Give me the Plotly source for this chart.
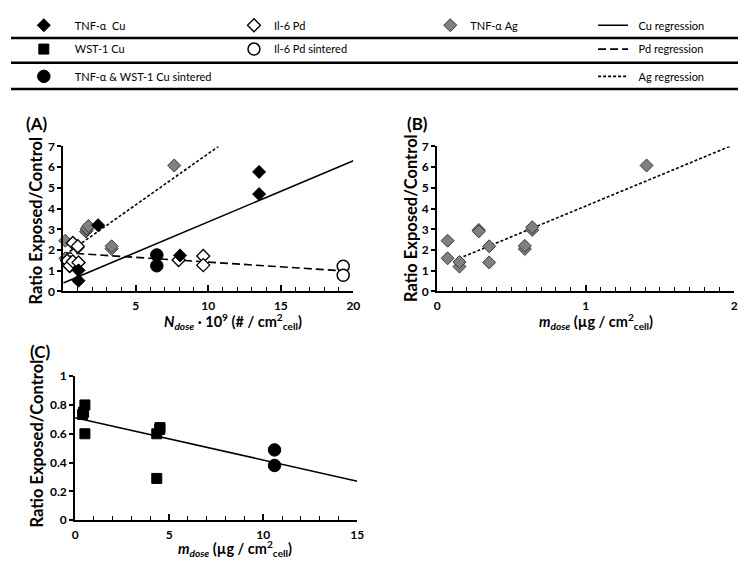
import plotly.graph_objects as go

W, H = 746, 563

# ---------------- Panel A data (N_dose * 1e9) ----------------
tnf_cu_x = [1.05, 1.05, 2.4, 8.05, 13.5, 13.5]
tnf_cu_y = [0.52, 1.02, 3.2, 1.74, 5.77, 4.70]

il6_pd_x = [0.66, 1.0, 0.27, 0.43, 0.66, 1.05, 7.95, 9.65, 9.65]
il6_pd_y = [2.34, 2.18, 1.48, 1.24, 1.45, 1.40, 1.52, 1.71, 1.27]

il6_pd_sint_x = [19.3, 19.3]
il6_pd_sint_y = [1.22, 0.78]

tnf_ag_n_x = [0.14, 0.14, 0.45, 0.50, 1.56, 1.63, 1.00, 1.05, 3.33, 3.33, 1.63, 1.73, 7.65]
tnf_ag_y = [2.45, 1.60, 1.20, 1.42, 2.89, 2.97, 2.12, 1.38, 2.06, 2.18, 3.05, 3.16, 6.08]

cu_sint_n_x = [6.45, 6.45]
cu_sint_n_y = [1.76, 1.24]

# ---------------- Panel B data (m_dose, ug/cm2) ----------------
tnf_ag_m_x = [0.07, 0.07, 0.15, 0.15, 0.28, 0.28, 0.35, 0.35, 0.59, 0.59, 0.64, 0.64, 1.41]
tnf_ag_m_y = [2.45, 1.60, 1.20, 1.42, 2.97, 2.90, 2.18, 1.40, 2.05, 2.20, 2.97, 3.10, 6.08]

# ---------------- Panel C data ----------------
wst_cu_x = [0.52, 0.40, 0.45, 0.52, 4.34, 4.51, 4.50, 4.34]
wst_cu_y = [0.80, 0.734, 0.75, 0.60, 0.60, 0.643, 0.63, 0.29]
cu_sint_m_x = [10.6, 10.6]
cu_sint_m_y = [0.488, 0.38]

# ---------------- Regression lines (end points) ----------------
cu_reg_a_x, cu_reg_a_y = [0, 20], [0.41, 6.31]
pd_reg_a_x, pd_reg_a_y = [0.07, 19.8], [1.87, 0.97]
ag_reg_a_x, ag_reg_a_y = [0.16, 10.7], [1.79, 7.0]
ag_reg_b_x, ag_reg_b_y = [0.146, 1.97], [1.59, 7.0]
cu_reg_c_x, cu_reg_c_y = [0, 15], [0.711, 0.271]

# ---------------- Styles ----------------
BLACK_DIAMOND = dict(symbol="diamond", size=10, color="black", line=dict(color="black", width=1))
WHITE_DIAMOND = dict(symbol="diamond", size=10, color="white", line=dict(color="black", width=1.3))
GREY_DIAMOND = dict(symbol="diamond", size=10, color="#808080", line=dict(color="#3a3a3a", width=1))
BLACK_SQUARE = dict(symbol="square", size=10, color="black", line=dict(color="black", width=1))
BLACK_CIRCLE = dict(symbol="circle", size=12.5, color="black", line=dict(color="black", width=1))
WHITE_CIRCLE = dict(symbol="circle", size=12, color="white", line=dict(color="black", width=1.5))

fig = go.Figure()

def line(x, y, dash, xa, ya, name, legend, show):
    fig.add_trace(go.Scatter(x=x, y=y, mode="lines", name=name, legend=legend,
                             showlegend=show, xaxis=xa, yaxis=ya,
                             line=dict(color="black", width=1.6, dash=dash)))

def pts(x, y, marker, xa, ya, name, legend, show):
    fig.add_trace(go.Scatter(x=x, y=y, mode="markers", name=name, legend=legend,
                             showlegend=show, xaxis=xa, yaxis=ya, marker=marker,
                             cliponaxis=False))

SP = "\u2002\u2002"
# Panel A
line(cu_reg_a_x, cu_reg_a_y, "solid", "x", "y", "\u2002Cu regression", "legend7", True)
line(pd_reg_a_x, pd_reg_a_y, "8px,4px", "x", "y", "\u2002Pd regression", "legend8", True)
line(ag_reg_a_x, ag_reg_a_y, "3px,2px", "x", "y", "\u2002Ag regression", "legend9", True)
pts(tnf_ag_n_x, tnf_ag_y, GREY_DIAMOND, "x", "y", "TNF-α Ag", "legend6", True)
pts(il6_pd_x, il6_pd_y, WHITE_DIAMOND, "x", "y", "Il-6 Pd", "legend4", True)
pts(il6_pd_sint_x, il6_pd_sint_y, WHITE_CIRCLE, "x", "y", "Il-6 Pd sintered", "legend5", True)
pts(tnf_cu_x, tnf_cu_y, BLACK_DIAMOND, "x", "y", SP + "TNF-α  Cu", "legend", True)
pts(cu_sint_n_x, cu_sint_n_y, BLACK_CIRCLE, "x", "y", SP + "TNF-α & WST-1 Cu sintered", "legend3", True)
# Panel B
line(ag_reg_b_x, ag_reg_b_y, "3px,2px", "x2", "y2", "Ag regression", "legend9", False)
pts(tnf_ag_m_x, tnf_ag_m_y, GREY_DIAMOND, "x2", "y2", "TNF-α Ag", "legend6", False)
# Panel C
line(cu_reg_c_x, cu_reg_c_y, "solid", "x3", "y3", "Cu regression", "legend7", False)
pts(wst_cu_x, wst_cu_y, BLACK_SQUARE, "x3", "y3", SP + "WST-1 Cu", "legend2", True)
pts(cu_sint_m_x, cu_sint_m_y, BLACK_CIRCLE, "x3", "y3", "Cu sintered", "legend3", False)

TICKFONT = dict(family="Lato", size=12, color="black", weight="bold")

def xax(domain, rng, tickvals, minor_dtick, anchor):
    return dict(domain=domain, range=rng, anchor=anchor, tickmode="array", tickvals=tickvals,
                ticks="inside", ticklen=6, tickwidth=1.5, tickcolor="black",
                minor=dict(tickmode="linear", tick0=0, dtick=minor_dtick, ticks="inside",
                           ticklen=4, tickwidth=1.2, tickcolor="black"),
                showline=True, linewidth=2, linecolor="black", showgrid=False, zeroline=False,
                tickfont=TICKFONT, ticklabelstandoff=2, fixedrange=True)

def yax(domain, rng, tickvals, ticktext, anchor):
    return dict(domain=domain, range=rng, anchor=anchor, tickmode="array", tickvals=tickvals,
                ticktext=ticktext, ticks="outside", ticklen=4, tickwidth=1.5, tickcolor="black",
                showline=True, linewidth=2, linecolor="black", showgrid=False, zeroline=False,
                tickfont=TICKFONT, fixedrange=True)

def px(v):
    return v / W

def py(v):
    return 1 - v / H

a_x_dom = [px(53), px(347)]
ab_y_dom = [py(283), py(134)]
b_x_dom = [px(432), px(733)]
c_x_dom = [px(65), px(351)]
c_y_dom = [py(518), py(370)]

def leg(xp, yp):
    return dict(x=px(xp), y=py(yp), xanchor="left", yanchor="middle", xref="paper", yref="paper",
                bgcolor="rgba(0,0,0,0)", borderwidth=0, itemclick=False, itemdoubleclick=False,
                font=dict(family="Lato", size=11, color="black"))

row1, row2, row3 = 9.5, 34, 62
layout = dict(
    width=W, height=H, margin=dict(l=0, r=0, t=0, b=0),
    paper_bgcolor="white", plot_bgcolor="white",
    xaxis=xax(a_x_dom, [0, 20], [5, 10, 15, 20], 1, "y"),
    yaxis=yax(ab_y_dom, [0, 7], list(range(8)), [str(i) for i in range(8)], "x"),
    xaxis2=xax(b_x_dom, [0, 2], [0, 1, 2], 0.1, "y2"),
    yaxis2=yax(ab_y_dom, [0, 7], list(range(8)), [str(i) for i in range(8)], "x2"),
    xaxis3=xax(c_x_dom, [0, 15], [0, 5, 10, 15], 1, "y3"),
    yaxis3=yax(c_y_dom, [0, 1], [0, 0.2, 0.4, 0.6, 0.8, 1], ["0", "0.2", "0.4", "0.6", "0.8", "1"], "x3"),
    legend=leg(13, row1),
    legend2=leg(13, row2),
    legend3=leg(13, row3),
    legend4=leg(226, row1),
    legend5=leg(226, row2),
    legend6=leg(425, row1),
    legend7=leg(590, row1),
    legend8=leg(590, row2),
    legend9=leg(590, row3),
)
fig.update_layout(**layout)

# separator rules of the legend table
for yy in [22.5, 48, 75]:
    fig.add_shape(type="line", xref="paper", yref="paper", x0=0, x1=1, y0=py(yy), y1=py(yy),
                  line=dict(color="black", width=2.5))

TITLE = dict(family="Lato", size=16.5, color="black", weight="bold")
XT = dict(family="Lato", size=14.5, color="black", weight="bold")
PANEL = dict(family="Lato", size=17, color="black", weight="bold")

def ann(text, x, y, font, angle=0):
    fig.add_annotation(text=text, x=px(x), y=py(y), xref="paper", yref="paper",
                       showarrow=False, xanchor="center", yanchor="middle", font=font,
                       textangle=angle)

ann("(A)", 25.5, 110.5, PANEL)
ann("(B)", 412.5, 110.5, PANEL)
ann("(C)", 30, 344.5, PANEL)
ann("Ratio Exposed/Control", 25.5, 210, TITLE, -90)
ann("Ratio Exposed/Control", 406, 208, TITLE, -90)
ann("Ratio Exposed/Control", 26.5, 439, TITLE, -90)
ann("<i>N</i><sub><i>dose</i></sub> · 10<sup>9</sup> (# / cm<sup>2</sup><sub>cell</sub>)", 225, 314, XT)
ann("<i>m</i><sub><i>dose</i></sub> (µg / cm<sup>2</sup><sub>cell</sub>)", 593, 314, XT)
ann("<i>m</i><sub><i>dose</i></sub> (µg / cm<sup>2</sup><sub>cell</sub>)", 227, 547, XT)

fig.write_html("out.html")
